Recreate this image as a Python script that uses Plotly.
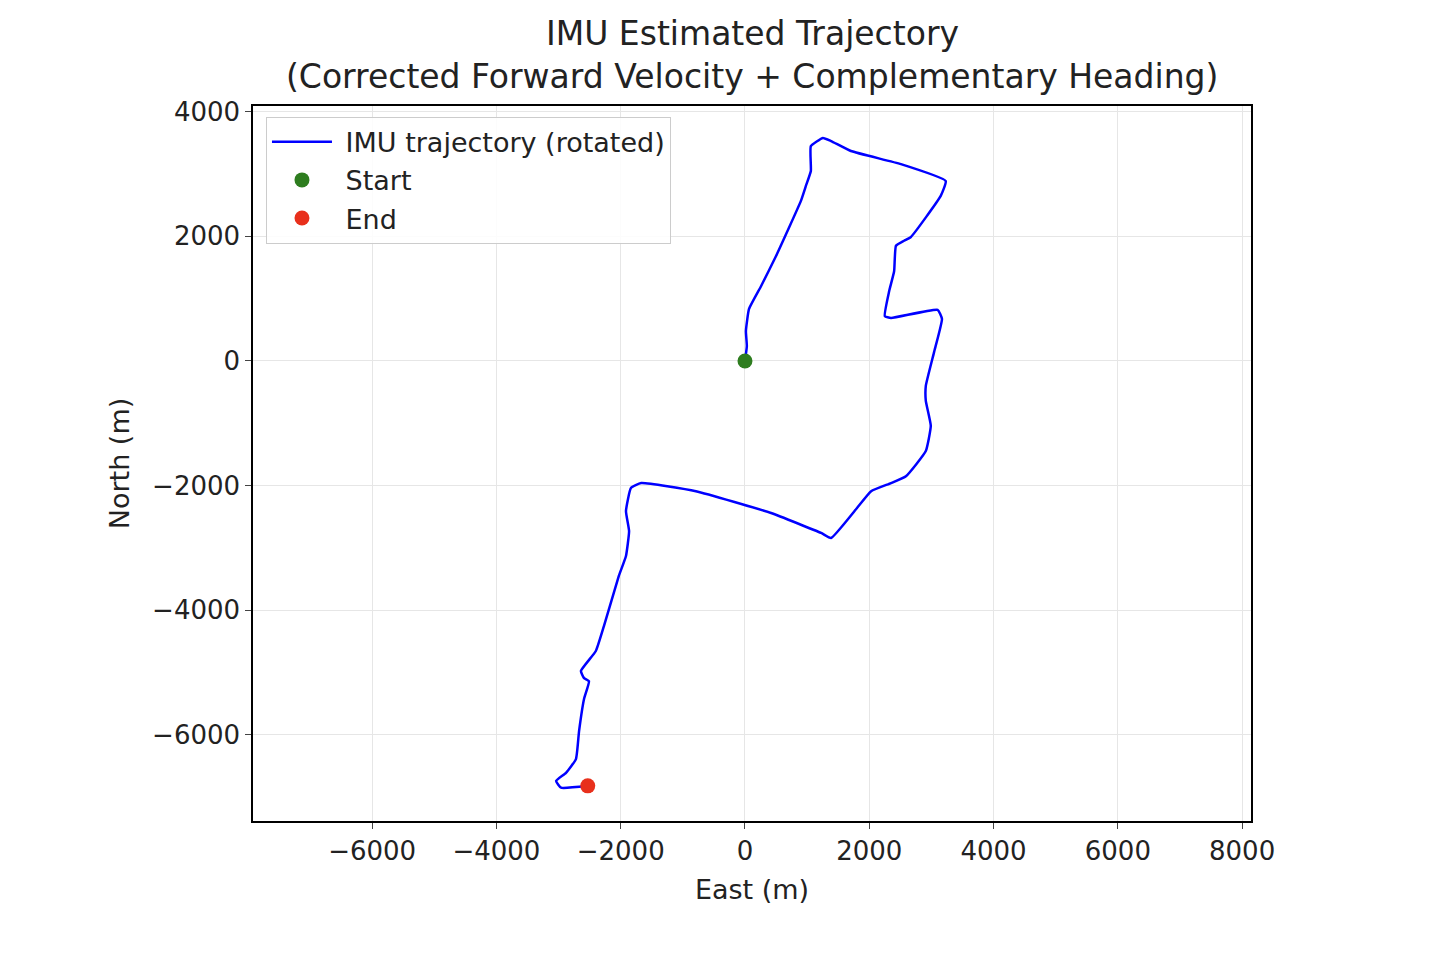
import plotly.graph_objects as go

east = [0,30,15,65,258,500,900,980,1060,1060,1255,1385,1705,2510,3230,3150,2670,2560,2430,2400,2320,2250,2350,3100,3170,3040,2910,2910,2990,2910,2590,2350,2030,1790,1385,1225,420,-790,-1670,-1835,-1915,-1865,-1915,-2030,-2270,-2400,-2640,-2590,-2510,-2590,-2670,-2720,-2880,-3040,-2960,-2530]
north = [0,240,480,835,1200,1685,2570,2810,3050,3450,3580,3530,3370,3160,2890,2650,1990,1930,1850,1440,1120,720,690,820,675,130,-400,-640,-1040,-1445,-1850,-1960,-2090,-2375,-2840,-2760,-2440,-2090,-1960,-2040,-2410,-2730,-3130,-3450,-4255,-4655,-4975,-5090,-5140,-5425,-5940,-6390,-6610,-6740,-6850,-6820]
x_ticks = [-6000,-4000,-2000,0,2000,4000,6000,8000]
y_ticks = [-6000,-4000,-2000,0,2000,4000]
title_lines = ["IMU Estimated Trajectory", "(Corrected Forward Velocity + Complementary Heading)"]

font = "DejaVu Sans"
fig = go.Figure()
fig.add_trace(go.Scatter(x=east, y=north, mode="lines", line=dict(color="blue", width=2.5, shape="spline", smoothing=0.4), name=" IMU trajectory (rotated)"))
fig.add_trace(go.Scatter(x=[east[0]], y=[north[0]], mode="markers", marker=dict(color="#2e7d1f", size=15), name=" Start"))
fig.add_trace(go.Scatter(x=[east[-1]], y=[north[-1]], mode="markers", marker=dict(color="#e8301c", size=15), name=" End"))

ax = dict(showline=True, linecolor="black", linewidth=1.5, mirror=True, ticks="outside", ticklen=6,
          showgrid=True, gridcolor="#e6e6e6", zeroline=False, tickfont=dict(size=26, color="#222"))
fig.update_layout(
    width=1444, height=962, plot_bgcolor="white", paper_bgcolor="white",
    font=dict(family=font, color="#222"),
    margin=dict(l=245, r=201, t=98, b=149),
    xaxis=dict(ax, range=[-7917, 8143], tickvals=x_ticks, ticktext=[f"{v}".replace("-", "−") for v in x_ticks],
               title=dict(text="East (m)", font=dict(size=27))),
    yaxis=dict(ax, range=[-7384, 4093], tickvals=y_ticks, ticktext=[f"{v}".replace("-", "−") for v in y_ticks],
               title=dict(text="North (m)", font=dict(size=27))),
    legend=dict(x=0.013, y=0.985, xanchor="left", yanchor="top", bgcolor="rgba(255,255,255,0.85)",
                bordercolor="#ccc", borderwidth=1, font=dict(size=27), itemwidth=60),
)
for txt, yy in zip(title_lines, [1.1007, 1.041]):
    fig.add_annotation(text=txt, xref="paper", yref="paper", x=0.5, y=yy, xanchor="center", yanchor="middle",
                       showarrow=False, font=dict(size=33, color="#222"))
fig.write_html("out.html")
